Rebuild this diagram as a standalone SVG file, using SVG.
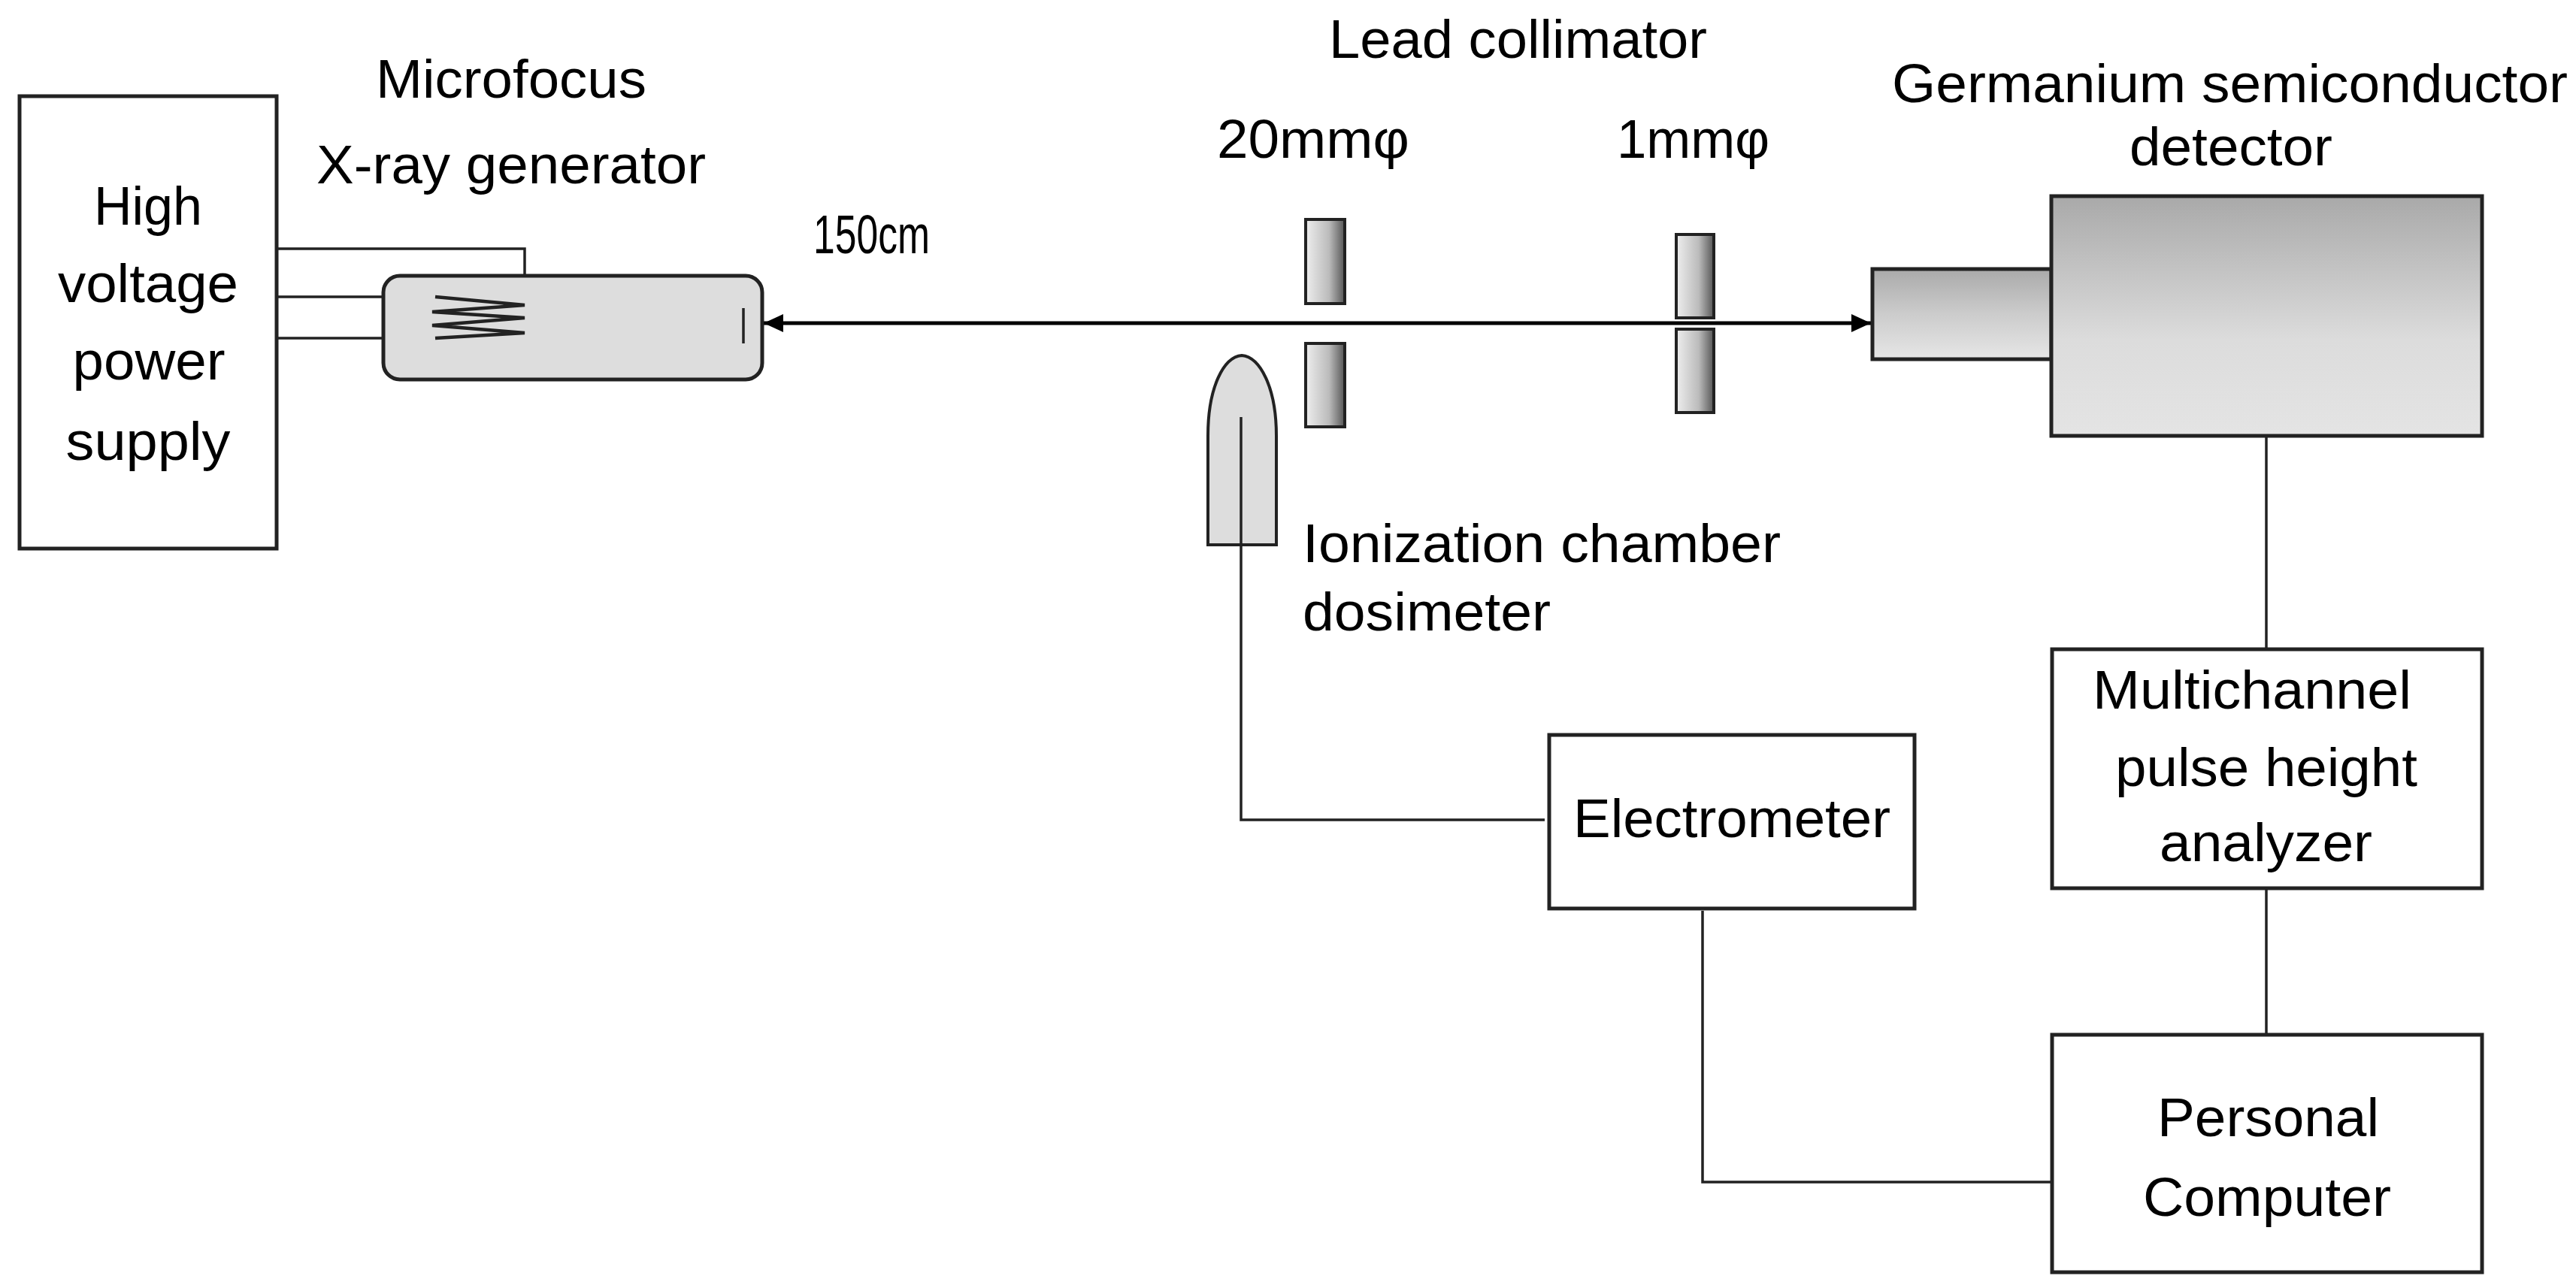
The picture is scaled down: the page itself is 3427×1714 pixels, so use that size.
<svg xmlns="http://www.w3.org/2000/svg" width="3427" height="1714" viewBox="0 0 3427 1714">
<style>
text{font-family:"Liberation Sans",Arial,sans-serif;font-size:72px;fill:#000}
.box{fill:#fff;stroke:#222;stroke-width:5}
.w{fill:none;stroke:#222;stroke-width:3.5}
</style>
<defs>
<linearGradient id="col" x1="0" y1="0" x2="1" y2="0"><stop offset="0" stop-color="#eee"/><stop offset="0.6" stop-color="#bbb"/><stop offset="1" stop-color="#555"/></linearGradient>
<linearGradient id="det" x1="0" y1="0" x2="0" y2="1"><stop offset="0" stop-color="#a9a9a9"/><stop offset="0.6" stop-color="#dcdcdc"/><stop offset="1" stop-color="#e4e4e4"/></linearGradient>
<linearGradient id="det2" x1="0" y1="0" x2="0" y2="1"><stop offset="0" stop-color="#aaa"/><stop offset="0.5" stop-color="#ccc"/><stop offset="1" stop-color="#e6e6e6"/></linearGradient>
<marker id="ah" markerWidth="26" markerHeight="24" refX="26" refY="12" orient="auto-start-reverse" markerUnits="userSpaceOnUse" viewBox="0 0 26 24"><path d="M0,0 L26,12 L0,24 z" fill="#000"/></marker>
</defs>
<g id="connectors">
<path class="w" d="M370,331 H698 V367"/>
<path class="w" d="M370,395 H579 L698,406 L575,415 L698,423 L575,433 L698,443 L579,450 H370"/>
<line x1="1016" y1="430" x2="2489" y2="430" stroke="#000" stroke-width="5" marker-start="url(#ah)" marker-end="url(#ah)"/>
<path class="w" d="M3015,580 V864"/>
<path class="w" d="M3015,1182 V1377"/>
<path class="w" d="M1651,555 V1091 H2055"/>
<path class="w" d="M2265,1212 V1573 H2730"/>
</g>
<g id="hv"><rect class="box" x="26" y="128" width="342" height="602"/>
<text x="197" y="299" text-anchor="middle" textLength="144" lengthAdjust="spacingAndGlyphs">High</text>
<text x="197" y="402" text-anchor="middle" textLength="240" lengthAdjust="spacingAndGlyphs">voltage</text>
<text x="198" y="505" text-anchor="middle" textLength="203" lengthAdjust="spacingAndGlyphs">power</text>
<text x="197" y="612" text-anchor="middle" textLength="219" lengthAdjust="spacingAndGlyphs">supply</text></g>
<g id="xray"><rect x="510" y="367" width="504" height="138" rx="22" fill="#ddd" stroke="#222" stroke-width="5"/>
<line x1="989" y1="410" x2="989" y2="457" stroke="#222" stroke-width="3.5"/>
<path fill="none" stroke="#222" stroke-width="4.5" d="M579,395 L698,406 L575,415 L698,423 L575,433 L698,443 L579,450"/>
<text x="500" y="130" textLength="360" lengthAdjust="spacingAndGlyphs">Microfocus</text>
<text x="421" y="244" textLength="518" lengthAdjust="spacingAndGlyphs">X-ray generator</text></g>
<g id="dist"><text x="1082" y="337" textLength="155" lengthAdjust="spacingAndGlyphs">150cm</text></g>
<g id="collimator">
<rect x="1737" y="292" width="52" height="112" fill="url(#col)" stroke="#222" stroke-width="4"/>
<rect x="1737" y="457" width="52" height="111" fill="url(#col)" stroke="#222" stroke-width="4"/>
<rect x="2230" y="312" width="50" height="111" fill="url(#col)" stroke="#222" stroke-width="4"/>
<rect x="2230" y="438" width="50" height="111" fill="url(#col)" stroke="#222" stroke-width="4"/>
<text x="1768" y="77" textLength="503" lengthAdjust="spacingAndGlyphs">Lead collimator</text>
<text x="1619" y="210" textLength="256" lengthAdjust="spacingAndGlyphs">20mmφ</text>
<text x="2151" y="210" textLength="203" lengthAdjust="spacingAndGlyphs">1mmφ</text></g>
<g id="detector">
<rect x="2491" y="358" width="238" height="120" fill="url(#det2)" stroke="#222" stroke-width="5"/>
<rect x="2729" y="261" width="573" height="319" fill="url(#det)" stroke="#222" stroke-width="5"/>
<text x="2517" y="136" textLength="899" lengthAdjust="spacingAndGlyphs">Germanium semiconductor</text>
<text x="2833" y="220" textLength="270" lengthAdjust="spacingAndGlyphs">detector</text></g>
<g id="ionchamber">
<path d="M1607,725 V580 C1607,515 1628,475 1652,473 C1676,475 1698,515 1698,580 V725 Z" fill="#ddd" stroke="#222" stroke-width="4"/>
<line x1="1651" y1="555" x2="1651" y2="725" stroke="#222" stroke-width="3.5"/>
<text x="1733" y="748" textLength="636" lengthAdjust="spacingAndGlyphs">Ionization chamber</text>
<text x="1733" y="839" textLength="330" lengthAdjust="spacingAndGlyphs">dosimeter</text></g>
<g id="electrometer"><rect class="box" x="2061" y="978" width="486" height="231"/>
<text x="2093" y="1114" textLength="422" lengthAdjust="spacingAndGlyphs">Electrometer</text></g>
<g id="mca"><rect class="box" x="2730" y="864" width="572" height="318"/>
<text x="2784" y="943" textLength="424" lengthAdjust="spacingAndGlyphs">Multichannel</text>
<text x="2814" y="1046" textLength="402" lengthAdjust="spacingAndGlyphs">pulse height</text>
<text x="2873" y="1146" textLength="283" lengthAdjust="spacingAndGlyphs">analyzer</text></g>
<g id="pc"><rect class="box" x="2730" y="1377" width="572" height="316"/>
<text x="2870" y="1512" textLength="295" lengthAdjust="spacingAndGlyphs">Personal</text>
<text x="2851" y="1618" textLength="330" lengthAdjust="spacingAndGlyphs">Computer</text></g>
</svg>
